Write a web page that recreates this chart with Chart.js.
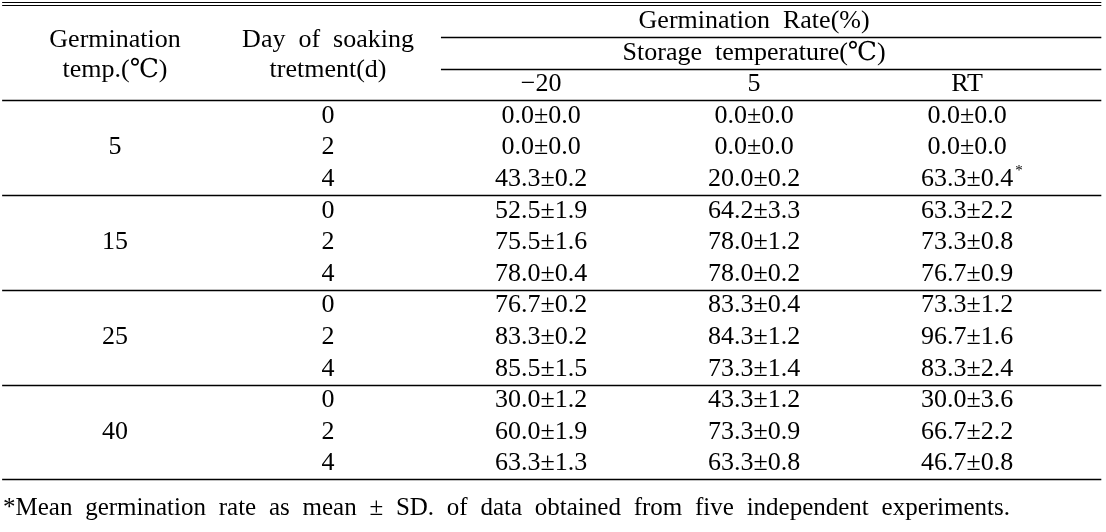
<!DOCTYPE html>
<html>
<head>
<meta charset="utf-8">
<script src="https://cdn.jsdelivr.net/npm/chart.js@4.4.1/dist/chart.umd.min.js"></script>
<style>
  body { margin: 0; background: #fff; }
  canvas { display: block; }
  .precarga { font-family: "Liberation Serif"; position: absolute; left: -9999px; }
</style>
</head>
<body>
<span class="precarga">Germination 0.0±0.0</span>
<canvas id="tabla" width="1106" height="532"></canvas>
<script>
// datos de la tabla
var germTemps = ['5', '15', '25', '40'];
var soakDays = ['0', '2', '4'];
var storageTemps = ['\u221220', '5', 'RT'];

var meanMinus20 = [0.0, 0.0, 43.3, 52.5, 75.5, 78.0, 76.7, 83.3, 85.5, 30.0, 60.0, 63.3];
var sdMinus20   = [0.0, 0.0, 0.2, 1.9, 1.6, 0.4, 0.2, 0.2, 1.5, 1.2, 1.9, 1.3];
var mean5       = [0.0, 0.0, 20.0, 64.2, 78.0, 78.0, 83.3, 84.3, 73.3, 43.3, 73.3, 63.3];
var sd5         = [0.0, 0.0, 0.2, 3.3, 1.2, 0.2, 0.4, 1.2, 1.4, 1.2, 0.9, 0.8];
var meanRT      = [0.0, 0.0, 63.3, 63.3, 73.3, 76.7, 73.3, 96.7, 83.3, 30.0, 66.7, 46.7];
var sdRT        = [0.0, 0.0, 0.4, 2.2, 0.8, 0.9, 1.2, 1.6, 2.4, 3.6, 2.2, 0.8];
var marcaRT     = ['', '', '*', '', '', '', '', '', '', '', '', ''];

var nota = '*Mean germination rate as mean \u00b1 SD. of data obtained from five independent experiments.';

var fuente = 'Liberation Serif, DejaVu Serif, serif';

// construir las celdas como puntos (x = columna, y = fila)
var celdas = [];
for (var g = 0; g < germTemps.length; g++) {
    celdas.push({ x: 0, y: g * 3 + 1, t: germTemps[g] });
    for (var d = 0; d < soakDays.length; d++) {
        var fila = g * 3 + d;
        celdas.push({ x: 1, y: fila, t: soakDays[d] });
        celdas.push({ x: 2, y: fila, t: meanMinus20[fila].toFixed(1) + '\u00b1' + sdMinus20[fila].toFixed(1) });
        celdas.push({ x: 3, y: fila, t: mean5[fila].toFixed(1) + '\u00b1' + sd5[fila].toFixed(1) });
        celdas.push({ x: 4, y: fila, t: meanRT[fila].toFixed(1) + '\u00b1' + sdRT[fila].toFixed(1), sup: marcaRT[fila] });
    }
}
// encabezados
var encabezados = [
    { x: 0, y: -2.4, t: 'Germination' },
    { x: 0, y: -1.45, t: 'temp.(\u2103)' },
    { x: 1, y: -2.4, t: 'Day  of  soaking' },
    { x: 1, y: -1.45, t: 'tretment(d)' },
    { x: 3, y: -3, t: 'Germination  Rate(%)' },
    { x: 3, y: -2, t: 'Storage  temperature(\u2103)' }
];
for (var s = 0; s < storageTemps.length; s++) {
    encabezados.push({ x: 2 + s, y: -1, t: storageTemps[s] });
}

// lineas horizontales: [fila, desde columna, grosor]
var lineas = [
    [-3.62, -0.53, 1.2], [-3.52, -0.53, 1.2],
    [-2.5, 1.53, 1.3], [-1.5, 1.53, 1.3],
    [-0.5, -0.53, 1.5], [2.5, -0.53, 1.5], [5.5, -0.53, 1.5], [8.5, -0.53, 1.5], [11.5, -0.53, 1.5]
];

var pluginTabla = {
    id: 'tabla',
    afterDatasetsDraw: function (chart) {
        var ctx = chart.ctx;
        var xs = chart.scales.x, ys = chart.scales.y;
        ctx.save();
        ctx.fillStyle = '#000';
        ctx.strokeStyle = '#000';
        // lineas
        lineas.forEach(function (l) {
            var y = Math.round(ys.getPixelForValue(l[0])) + 0.5;
            ctx.lineWidth = l[2];
            ctx.beginPath();
            ctx.moveTo(xs.getPixelForValue(l[1]), y);
            ctx.lineTo(xs.getPixelForValue(4.63), y);
            ctx.stroke();
        });
        ctx.font = '26px ' + fuente;
        ctx.textAlign = 'center';
        ctx.textBaseline = 'middle';
        // celdas del dataset
        var meta = chart.getDatasetMeta(0);
        meta.data.forEach(function (pt, i) {
            var c = celdas[i];
            ctx.fillText(c.t, pt.x, pt.y);
            if (c.sup) {
                var w = ctx.measureText(c.t).width;
                ctx.font = '15px ' + fuente;
                ctx.textAlign = 'left';
                ctx.fillText(c.sup, pt.x + w / 2 + 2, pt.y - 8);
                ctx.font = '26px ' + fuente;
                ctx.textAlign = 'center';
            }
        });
        // encabezados
        encabezados.forEach(function (e) {
            ctx.fillText(e.t, xs.getPixelForValue(e.x), ys.getPixelForValue(e.y));
        });
        // nota al pie, justificada
        ctx.font = '25px ' + fuente;
        ctx.textAlign = 'left';
        var palabras = nota.split(' ');
        var anchoTotal = 0;
        palabras.forEach(function (p) { anchoTotal += ctx.measureText(p).width; });
        var x0 = 3, x1 = 1010;
        var hueco = (x1 - x0 - anchoTotal) / (palabras.length - 1);
        var x = x0, yN = ys.getPixelForValue(12.42);
        palabras.forEach(function (p) {
            ctx.fillText(p, x, yN);
            x += ctx.measureText(p).width + hueco;
        });
        ctx.restore();
    }
};

function crearTabla() {
    var ctx = document.getElementById('tabla').getContext('2d');
    new Chart(ctx, {
        type: 'scatter',
        data: {
            datasets: [{
                label: 'celdas',
                data: celdas,
                pointRadius: 0,
                pointHoverRadius: 0
            }]
        },
        options: {
            responsive: false,
            animation: false,
            layout: { padding: 0 },
            plugins: {
                legend: { display: false },
                tooltip: { enabled: false }
            },
            scales: {
                x: { type: 'linear', min: -0.54, max: 4.652, display: false },
                y: { type: 'linear', min: -3.671, max: 13.165, reverse: true, display: false }
            }
        },
        plugins: [pluginTabla]
    });
}

if (document.fonts && document.fonts.load) {
    document.fonts.load('26px "Liberation Serif"').then(crearTabla, crearTabla);
} else {
    crearTabla();
}
</script>
</body>
</html>
